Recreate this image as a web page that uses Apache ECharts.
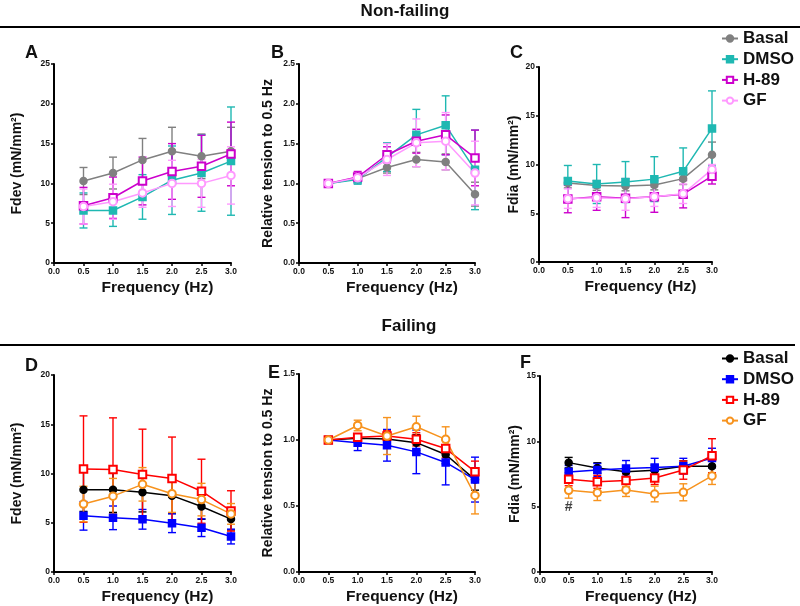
<!DOCTYPE html>
<html>
<head>
<meta charset="utf-8">
<script src="https://cdn.jsdelivr.net/npm/echarts@6/dist/echarts.min.js"></script>
<style>html,body{margin:0;padding:0;background:#fff}#c{width:800px;height:606px}</style>
</head>
<body>
<div id="c"></div>
<script>
// ---------- data ----------
const freq = [0.5, 1.0, 1.5, 2.0, 2.5, 3.0];
const xTicks = ['0.0', '0.5', '1.0', '1.5', '2.0', '2.5', '3.0'];
const groups = ['Basal', 'DMSO', 'H-89', 'GF'];

// A: Fdev, non-failing
const aBasal = [10.3, 11.3, 12.95, 14.05, 13.4, 14.05];
const aBasalErr = [1.7, 2.0, 2.7, 3.0, 2.8, 3.0];
const aDmso = [6.6, 6.6, 8.3, 10.4, 11.3, 12.8];
const aDmsoErr = [2.2, 2.0, 2.8, 4.3, 4.8, 6.8];
const aH89 = [7.2, 8.2, 10.3, 11.5, 12.15, 13.7];
const aH89Err = [2.3, 2.6, 3.0, 3.5, 3.9, 4.0];
const aGf = [7.1, 7.7, 8.8, 10.0, 10.0, 11.0];
const aGfErr = [2.2, 2.2, 1.8, 2.9, 3.0, 3.6];

// B: relative tension, non-failing
const bBasal = [1.0, 1.06, 1.2, 1.30, 1.27, 0.865];
const bBasalErr = [0, 0.04, 0.07, 0.09, 0.1, 0.15];
const bDmso = [1.0, 1.05, 1.33, 1.61, 1.73, 1.17];
const bDmsoErr = [0, 0.06, 0.18, 0.32, 0.37, 0.5];
const bH89 = [1.0, 1.08, 1.36, 1.53, 1.61, 1.32];
const bH89Err = [0, 0.07, 0.1, 0.15, 0.25, 0.35];
const bGf = [1.0, 1.07, 1.3, 1.51, 1.53, 1.13];
const bGfErr = [0, 0.05, 0.2, 0.3, 0.36, 0.4];

// C: Fdia, non-failing
const cBasal = [8.1, 7.85, 7.8, 7.9, 8.55, 11.0];
const cBasalErr = [0.5, 0.5, 0.5, 0.5, 0.6, 1.3];
const cDmso = [8.3, 8.0, 8.2, 8.5, 9.3, 13.7];
const cDmsoErr = [1.6, 2.0, 2.1, 2.3, 2.4, 3.85];
const cH89 = [6.45, 6.7, 6.55, 6.7, 6.95, 8.8];
const cH89Err = [1.4, 1.4, 2.0, 1.6, 1.4, 0.8];
const cGf = [6.5, 6.6, 6.5, 6.7, 7.0, 9.5];
const cGfErr = [1.0, 1.0, 1.2, 1.0, 1.0, 0.5];

// D: Fdev, failing
const dBasal = [8.35, 8.35, 8.1, 7.75, 6.65, 5.37];
const dBasalErr = [2.2, 2.3, 2.0, 1.8, 1.3, 1.1];
const dDmso = [5.7, 5.5, 5.35, 4.95, 4.5, 3.6];
const dDmsoErr = [1.45, 1.2, 1.0, 0.95, 0.9, 0.75];
const dH89 = [10.45, 10.4, 9.9, 9.5, 8.2, 6.2];
const dH89Err = [5.4, 5.25, 4.6, 4.2, 3.25, 2.05];
const dGf = [6.9, 7.7, 8.9, 7.95, 7.35, 5.9];
const dGfErr = [1.8, 1.8, 1.7, 1.9, 1.65, 1.05];

// E: relative tension, failing
const eBasal = [1.0, 1.013, 1.008, 0.98, 0.89, 0.70];
const eBasalErr = [0, 0.03, 0.05, 0.06, 0.07, 0.08];
const eDmso = [1.0, 0.98, 0.96, 0.91, 0.83, 0.70];
const eDmsoErr = [0, 0.06, 0.12, 0.165, 0.17, 0.17];
const eH89 = [1.0, 1.02, 1.03, 1.005, 0.935, 0.76];
const eH89Err = [0, 0.02, 0.04, 0.05, 0.07, 0.08];
const eGf = [1.0, 1.11, 1.03, 1.10, 1.005, 0.58];
const eGfErr = [0, 0.04, 0.14, 0.08, 0.095, 0.14];

// F: Fdia, failing
const fBasal = [8.37, 7.96, 7.68, 7.78, 8.1, 8.1];
const fBasalErr = [0.4, 0.4, 0.4, 0.4, 0.4, 0.6];
const fDmso = [7.65, 7.8, 7.93, 8.0, 8.1, 8.72];
const fDmsoErr = [0.5, 0.5, 0.6, 0.7, 0.6, 0.75];
const fH89 = [7.1, 6.9, 7.0, 7.2, 7.8, 8.9];
const fH89Err = [0.5, 0.5, 0.5, 0.5, 0.7, 1.3];
const fGf = [6.25, 6.07, 6.28, 5.97, 6.1, 7.35];
const fGfErr = [0.6, 0.6, 0.5, 0.6, 0.65, 0.65];
const fAnnot = [[0.5, 5.0]];

// ---------- styling ----------
const FONT = 'Liberation Sans, Arial, sans-serif';
const topColors = ['#808080', '#1fb8b2', '#cc00cc', '#ff99ff'];
const botColors = ['#000000', '#0000ff', '#ff0000', '#f7931e'];
const symbols = ['circle', 'rect', 'emptyRect', 'emptyCircle'];
const symSizes = [7, 7, 7.5, 7.5];

const panels = [
  {grid: {left: 54, top: 64, width: 177, height: 199}, ymax: 25, yint: 5, dec: 0, name: 'Fdev (mN/mm²)', gap: 30, fs: 14,
   vals: [aBasal, aDmso, aH89, aGf], errs: [aBasalErr, aDmsoErr, aH89Err, aGfErr], colors: topColors, suffix: ''},
  {grid: {left: 299, top: 64, width: 176, height: 199}, ymax: 2.5, yint: 0.5, dec: 1, name: 'Relative tension to 0.5 Hz', gap: 24, fs: 14,
   vals: [bBasal, bDmso, bH89, bGf], errs: [bBasalErr, bDmsoErr, bH89Err, bGfErr], colors: topColors, suffix: ''},
  {grid: {left: 539, top: 67, width: 173, height: 195}, ymax: 20, yint: 5, dec: 0, name: 'Fdia (mN/mm²)', gap: 18, fs: 14,
   vals: [cBasal, cDmso, cH89, cGf], errs: [cBasalErr, cDmsoErr, cH89Err, cGfErr], colors: topColors, suffix: ''},
  {grid: {left: 54, top: 375, width: 177, height: 197}, ymax: 20, yint: 5, dec: 0, name: 'Fdev (mN/mm²)', gap: 30, fs: 14,
   vals: [dBasal, dDmso, dH89, dGf], errs: [dBasalErr, dDmsoErr, dH89Err, dGfErr], colors: botColors, suffix: ' '},
  {grid: {left: 299, top: 374, width: 176, height: 198}, ymax: 1.5, yint: 0.5, dec: 1, name: 'Relative tension to 0.5 Hz', gap: 24, fs: 14,
   vals: [eBasal, eDmso, eH89, eGf], errs: [eBasalErr, eDmsoErr, eH89Err, eGfErr], colors: botColors, suffix: ' '},
  {grid: {left: 540, top: 376, width: 172, height: 196}, ymax: 15, yint: 5, dec: 0, name: 'Fdia (mN/mm²)', gap: 18, fs: 14,
   vals: [fBasal, fDmso, fH89, fGf], errs: [fBasalErr, fDmsoErr, fH89Err, fGfErr], colors: botColors, suffix: ' '}
];

const grids = [], xAxes = [], yAxes = [], series = [];
panels.forEach((p, pi) => {
  grids.push(Object.assign({containLabel: false}, p.grid));
  xAxes.push({
    type: 'value', gridIndex: pi, min: 0, max: 3, interval: 0.5,
    name: 'Frequency (Hz)', nameLocation: 'middle', nameGap: 17,
    nameTextStyle: {fontFamily: FONT, fontWeight: 'bold', fontSize: 15.5, color: '#111', padding: [0, 0, 0, 30]},
    axisLine: {onZero: false, lineStyle: {color: '#000', width: 2}},
    axisTick: {show: true, length: 3, lineStyle: {color: '#000', width: 1.5}},
    axisLabel: {fontFamily: FONT, fontWeight: 'bold', fontSize: 8.5, color: '#111', margin: 4,
      formatter: v => xTicks[Math.round(v / 0.5)]},
    splitLine: {show: false}
  });
  yAxes.push({
    type: 'value', gridIndex: pi, min: 0, max: p.ymax, interval: p.yint,
    name: p.name, nameLocation: 'middle', nameGap: p.gap,
    nameTextStyle: {fontFamily: FONT, fontWeight: 'bold', fontSize: p.fs, color: '#111'},
    axisLine: {show: true, onZero: false, lineStyle: {color: '#000', width: 2}},
    axisTick: {show: true, length: 3, lineStyle: {color: '#000', width: 1.5}},
    axisLabel: {fontFamily: FONT, fontWeight: 'bold', fontSize: 8.5, color: '#111', margin: 4,
      formatter: v => v.toFixed(p.dec)},
    splitLine: {show: false}
  });
  groups.forEach((g, gi) => {
    const col = p.colors[gi];
    const vals = p.vals[gi], errs = p.errs[gi];
    series.push({
      type: 'custom', xAxisIndex: pi, yAxisIndex: pi, z: 2, silent: true,
      data: freq.map((x, i) => [x, vals[i] - errs[i], vals[i] + errs[i]]),
      encode: {x: 0, y: [1, 2]},
      renderItem: (params, api) => {
        const x = api.value(0);
        const lo = api.coord([x, api.value(1)]);
        const hi = api.coord([x, api.value(2)]);
        const w = 4;
        const st = {stroke: col, lineWidth: 1.4};
        return {type: 'group', children: [
          {type: 'line', shape: {x1: lo[0], y1: lo[1], x2: hi[0], y2: hi[1]}, style: st},
          {type: 'line', shape: {x1: hi[0] - w, y1: hi[1], x2: hi[0] + w, y2: hi[1]}, style: st},
          {type: 'line', shape: {x1: lo[0] - w, y1: lo[1], x2: lo[0] + w, y2: lo[1]}, style: st}
        ]};
      }
    });
    series.push({
      name: g + p.suffix, type: 'line', xAxisIndex: pi, yAxisIndex: pi, z: 3,
      data: freq.map((x, i) => [x, vals[i]]),
      symbol: symbols[gi], symbolSize: symSizes[gi], showSymbol: true,
      lineStyle: {color: col, width: 1.5},
      itemStyle: {color: col, borderColor: col, borderWidth: 1.5}
    });
  });
});

series.push({
  type: 'scatter', xAxisIndex: 5, yAxisIndex: 5, z: 5, silent: true,
  data: fAnnot, symbolSize: 1, itemStyle: {color: 'rgba(0,0,0,0)'},
  label: {show: true, position: 'inside', formatter: '#', fontFamily: FONT, fontWeight: 'bold', fontSize: 14, color: '#111'}
});

const letter = (t, l, tp) => ({text: t, left: l, top: tp, textStyle: {fontFamily: FONT, fontWeight: 'bold', fontSize: 18, color: '#111'}});

const legendBase = {
  orient: 'vertical', left: 716, itemWidth: 16, itemHeight: 8, itemGap: 3.7,
  textStyle: {fontFamily: FONT, fontWeight: 'bold', fontSize: 17, color: '#111'},
  formatter: n => n.trim(), selectedMode: false
};

const option = {
  animation: false,
  backgroundColor: '#fff',
  title: [
    {text: 'Non-failing', left: 400, top: -2, textAlign: 'center', textStyle: {fontFamily: FONT, fontWeight: 'bold', fontSize: 17, color: '#111'}},
    {text: 'Failing', left: 404, top: 313, textAlign: 'center', textStyle: {fontFamily: FONT, fontWeight: 'bold', fontSize: 17, color: '#111'}},
    letter('A', 20, 39), letter('B', 266, 39), letter('C', 505, 39),
    letter('D', 20, 352), letter('E', 263, 359), letter('F', 515, 349)
  ],
  legend: [
    Object.assign({}, legendBase, {top: 25, data: groups}),
    Object.assign({}, legendBase, {top: 345, data: groups.map(g => g + ' ')})
  ],
  graphic: [
    {type: 'line', shape: {x1: 0, y1: 27, x2: 800, y2: 27}, style: {stroke: '#000', lineWidth: 2}},
    {type: 'line', shape: {x1: 0, y1: 345, x2: 795, y2: 345}, style: {stroke: '#000', lineWidth: 2}}
  ],
  grid: grids, xAxis: xAxes, yAxis: yAxes, series: series
};

const chart = echarts.init(document.getElementById('c'), null, {renderer: 'canvas'});
chart.setOption(option);
</script>
</body>
</html>
